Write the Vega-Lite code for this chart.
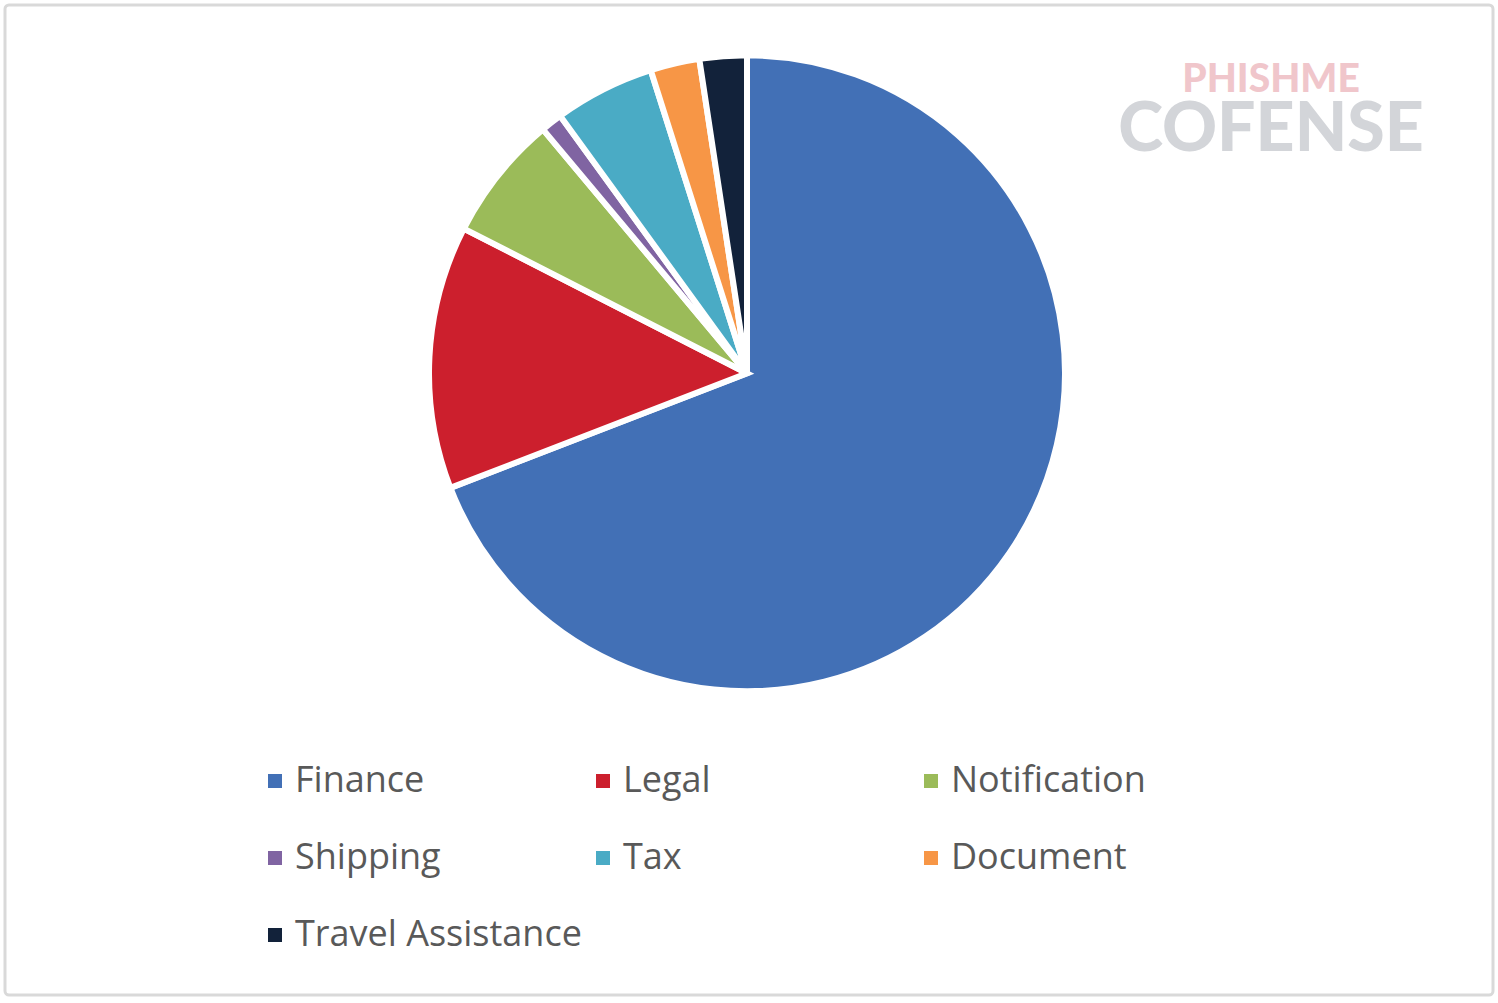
{
  "$schema": "https://vega.github.io/schema/vega-lite/v6.json",
  "width": 1488,
  "height": 990,
  "autosize": "none",
  "padding": {"left": 5, "top": 5, "right": 5, "bottom": 8},
  "background": "white",
  "title": {
    "text": "PHISHME",
    "subtitle": "COFENSE",
    "anchor": "end",
    "align": "center",
    "frame": "group",
    "dx": -222,
    "offset": -161,
    "font": "Lato",
    "fontWeight": 900,
    "fontSize": 39,
    "color": "#f0c6cb",
    "subtitleFont": "Lato",
    "subtitleFontWeight": 900,
    "subtitleFontSize": 68,
    "subtitleColor": "#d3d5d9",
    "subtitlePadding": -3
  },
  "layer": [
    {
      "data": {"values": [{"frame": 1}]},
      "mark": {"type": "rect", "fill": null, "fillOpacity": 0, "stroke": "#d9d9d9", "strokeWidth": 3, "cornerRadius": 4},
      "encoding": {}
    },
    {
      "data": {
        "values": [
          {"category": "Finance", "value": 69.2, "order": 1},
          {"category": "Legal", "value": 13.4, "order": 2},
          {"category": "Notification", "value": 6.4, "order": 3},
          {"category": "Shipping", "value": 1.1, "order": 4},
          {"category": "Tax", "value": 5.1, "order": 5},
          {"category": "Document", "value": 2.5, "order": 6},
          {"category": "Travel Assistance", "value": 2.4, "order": 7}
        ]
      },
      "mark": {
        "type": "arc",
        "outerRadius": 318,
        "stroke": "white",
        "strokeWidth": 6,
        "x": {"expr": "width/2-2"},
        "y": {"expr": "height*0.372"}
      },
      "encoding": {
        "theta": {"field": "value", "type": "quantitative", "stack": true},
        "order": {"field": "order", "type": "quantitative"},
        "color": {
          "field": "category",
          "type": "nominal",
          "sort": ["Finance", "Legal", "Notification", "Shipping", "Tax", "Document", "Travel Assistance"],
          "scale": {
            "domain": ["Finance", "Legal", "Notification", "Shipping", "Tax", "Document", "Travel Assistance"],
            "range": ["#4270B6", "#CC1F2D", "#9BBB59", "#8064A2", "#4AABC5", "#F79646", "#12223A"]
          },
          "legend": {
            "title": null,
            "orient": "none",
            "legendX": 252,
            "legendY": 758,
            "direction": "horizontal",
            "columns": 3,
            "gridAlign": "all",
            "columnPadding": 3,
            "rowPadding": 41,
            "padding": 0,
            "symbolType": "square",
            "symbolSize": 196,
            "symbolStrokeWidth": 0,
            "labelFont": "Open Sans",
            "labelFontSize": 36,
            "labelColor": "#595959",
            "labelOffset": 2,
            "labelLimit": 0
          }
        }
      }
    }
  ]
}
